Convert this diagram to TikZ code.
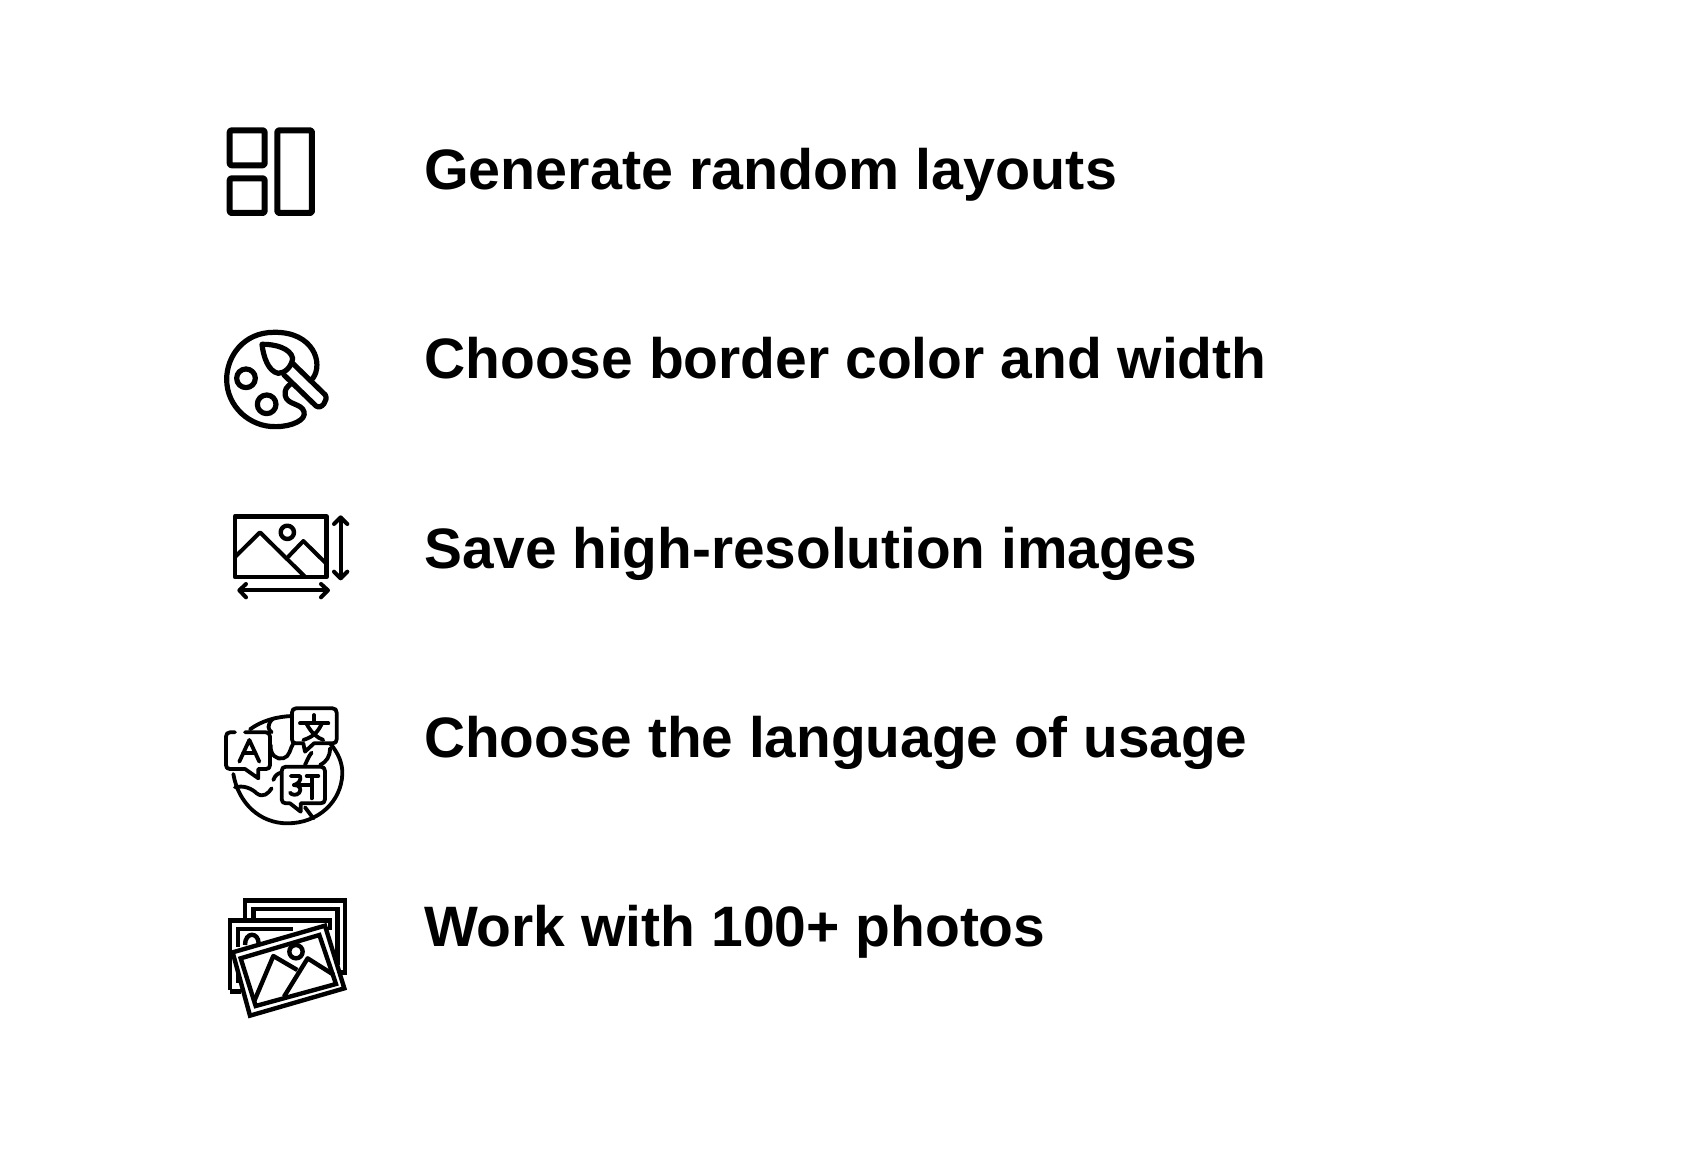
\documentclass[tikz,border=0pt]{standalone}
\usepackage{fontspec}
\setmainfont{Liberation Sans}
\tikzset{
  label text/.style={anchor=base west,inner sep=0pt,font=\fontsize{57}{60}\selectfont\bfseries,text=black},
  ico/.style={draw=black,line width=#1,line cap=round,line join=round},
  ico/.default=5.2pt,
  zoomed/.style 2 args={xshift=#1pt,yshift=-#2pt,x=0.3333pt,y=-0.3333pt}
}
\begin{document}
\begin{tikzpicture}[x=1pt,y=-1pt]
\useasboundingbox (0,0) rectangle (1702,1153);
\fill[white] (0,0) rectangle (1702,1153);
\node[label text,xscale=1.008,transform shape] (t1) at (424,189) {Generate random layouts};
\node[label text] (t2) at (424,378) {Choose border color and width};
\node[label text,xscale=0.996,transform shape] (t3) at (424,568) {Save high-resolution images};
\node[label text,xscale=0.996,transform shape] (t4) at (424,757) {Choose the language of usage};
\node[label text] (t5) at (424,946) {Work with 100+ photos};
% layout icon
\begin{scope}[zoomed={200}{100}]
\draw[ico=6pt,rounded corners=2pt] (89,91) rectangle (194,196);
\draw[ico=6pt,rounded corners=2pt] (89,235) rectangle (194,339);
\draw[ico=6pt,rounded corners=2pt] (232,91) rectangle (336,339);
\end{scope}
% palette icon
\begin{scope}[zoomed={200}{100}]
\draw[ico] (338,836) .. controls (372,790) and (340,695) .. (222,697)
  .. controls (130,697) and (80,770) .. (80,838)
  .. controls (80,920) and (150,982) .. (228,980)
  .. controls (275,980) and (320,960) .. (312,935)
  .. controls (305,910) and (262,915) .. (256,888)
  .. controls (252,868) and (262,860) .. (272,852);
\draw[ico] (186,733) .. controls (225,732) and (272,745) .. (278,775)
  .. controls (275,800) and (255,820) .. (235,820)
  .. controls (205,815) and (190,770) .. (186,733) -- cycle;
\draw[ico] (278,790) -- (376,885) .. controls (385,900) and (365,930) .. (348,918) -- (252,825);
\draw[ico] (138,835) circle[radius=28];
\draw[ico] (200,913) circle[radius=28];
\end{scope}
% image size icon
\begin{scope}[zoomed={210}{500}]
\draw[ico=4.6pt] (75,49) rectangle (349,231);
\draw[ico=4.4pt] (232,97) circle[radius=20];
\draw[ico=4pt] (76,170) -- (150,97) -- (283,228);
\draw[ico=4pt] (235,170) -- (280,123) -- (348,190);
\draw[ico=4pt] (392,54) -- (392,234);
\draw[ico=4pt] (372,72) -- (392,52) -- (412,72);
\draw[ico=4pt] (372,215) -- (392,235) -- (412,215);
\draw[ico=4pt] (90,271) -- (352,271);
\draw[ico=4pt] (108,252) -- (88,271) -- (108,292);
\draw[ico=4pt] (333,252) -- (354,271) -- (333,292);
\end{scope}
% language icon
\begin{scope}[zoomed={210}{700}]
\tikzset{l/.style={ico=3.8pt}}
\draw[l] (362,132) .. controls (385,160) and (398,190) .. (397,222)
  .. controls (394,305) and (325,370) .. (232,370)
  .. controls (150,370) and (85,310) .. (70,222);
\draw[l] (120,88) .. controls (155,62) and (200,50) .. (245,48);
\draw[l] (75,97) -- (60,97) .. controls (52,97) and (48,102) .. (48,110) -- (48,195) .. controls (48,203) and (52,207) .. (60,207)
  -- (105,207) -- (145,235) -- (145,207) -- (168,207) .. controls (176,207) and (180,203) .. (180,195) -- (180,110) .. controls (180,102) and (176,97) .. (168,97) -- (105,97);
\draw[l] (88,185) -- (118,120) -- (148,185);
\draw[l] (100,160) -- (136,160);
\draw[l] (258,25) -- (368,25) .. controls (376,25) and (380,30) .. (380,38) -- (380,118) .. controls (380,126) and (376,130) .. (368,130)
  -- (312,130) -- (285,155) -- (280,130) -- (258,130) .. controls (250,130) and (246,126) .. (246,118) -- (246,38) .. controls (246,30) and (250,25) .. (258,25) -- cycle;
\draw[l] (270,70) -- (355,70);
\draw[l] (312,45) -- (312,68);
\draw[l] (290,72) .. controls (305,100) and (320,112) .. (340,120);
\draw[l] (335,72) .. controls (322,100) and (305,112) .. (280,120);
\draw[l] (228,200) -- (332,200) .. controls (340,200) and (345,205) .. (345,213) -- (345,298) .. controls (345,306) and (340,310) .. (332,310)
  -- (272,310) -- (272,335) -- (240,310) -- (228,310) .. controls (220,310) and (215,306) .. (215,298) -- (215,213) .. controls (215,205) and (220,200) .. (228,200) -- cycle;
\draw[l] (242,228) -- (270,228) .. controls (275,240) and (265,252) .. (252,255) .. controls (270,255) and (275,268) .. (268,278) .. controls (260,288) and (245,285) .. (240,278);
\draw[l] (252,255) -- (305,255);
\draw[l] (290,228) -- (325,228);
\draw[l] (305,228) -- (305,295);
\draw[l] (190,55) .. controls (168,75) and (175,90) .. (185,97);
\draw[l] (182,135) .. controls (180,165) and (200,180) .. (220,175) .. controls (240,170) and (240,145) .. (250,130);
\draw[l] (75,262) .. controls (100,255) and (125,265) .. (140,280) .. controls (160,295) and (175,280) .. (185,265);
\draw[l] (305,158) .. controls (295,170) and (290,185) .. (285,195);
\draw[l] (360,145) .. controls (360,170) and (350,185) .. (330,195);
\draw[l] (190,240) .. controls (195,225) and (205,220) .. (213,218);
\draw[l] (285,322) -- (310,355);
\end{scope}
% photos icon
\begin{scope}[zoomed={210}{890}]
\tikzset{p/.style={ico=4.4pt,line cap=butt,line join=miter}}
\draw[p] (105,88) -- (105,31) -- (405,31) -- (405,248) -- (385,248);
\draw[p] (130,88) -- (130,57) -- (382,57) -- (382,225);
\draw[p] (60,300) -- (60,92) -- (360,92) -- (360,120);
\draw[p] (60,304) -- (92,304);
\draw[p] (84,170) -- (84,117) -- (250,117);
\draw[p] (84,235) -- (84,280);
\draw[p] (105,165) .. controls (105,125) and (145,125) .. (146,160);
\draw[p,fill=white] (68,187) -- (345,107) -- (403,295) -- (120,377) -- cycle;
\draw[p] (92,205) -- (328,135) -- (378,282) -- (137,348) -- cycle;
\draw[p] (258,185) circle[radius=20];
\draw[p,line join=round] (132,335) -- (190,198) -- (262,240);
\draw[p,line join=round] (222,320) -- (293,205) -- (372,255);
\end{scope}
\end{tikzpicture}
\end{document}
